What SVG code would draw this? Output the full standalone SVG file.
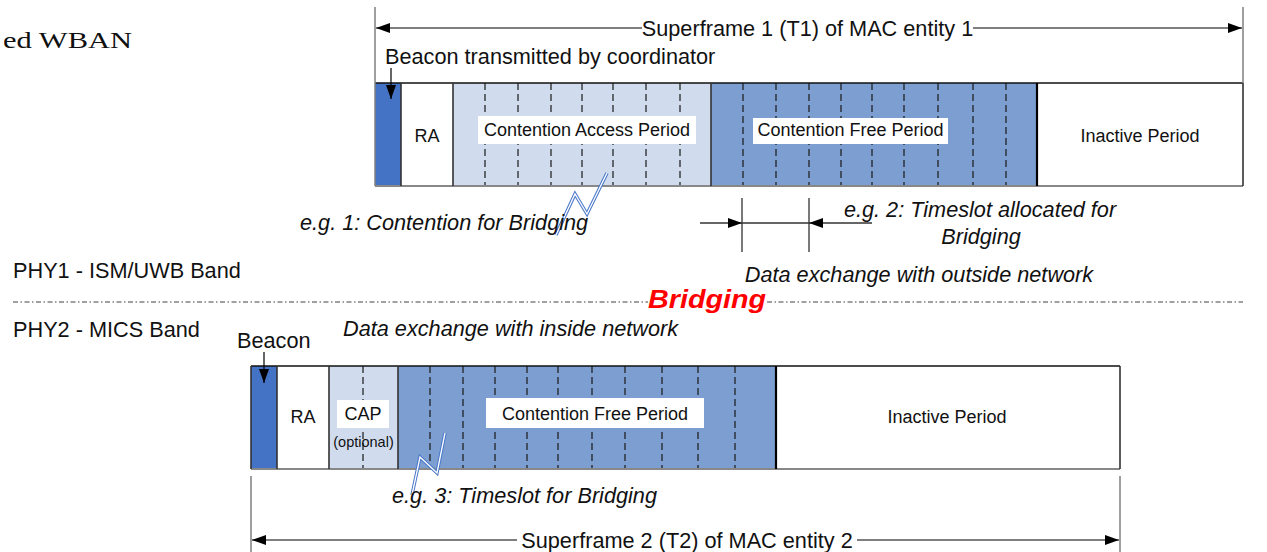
<svg xmlns="http://www.w3.org/2000/svg" width="1267" height="552" viewBox="0 0 1267 552">
  <defs>
    <marker id="ah" viewBox="0 0 14 10" refX="14" refY="5" markerWidth="14" markerHeight="10" markerUnits="userSpaceOnUse" orient="auto">
      <path d="M0,0 L14,5 L0,10 z" fill="#000"/>
    </marker>
    <style>
      .t{font-family:"Liberation Sans",Arial,sans-serif;fill:#111;}
      .lbl{font-size:18px;text-anchor:middle;}
      .big{font-size:21.7px;}
      .it{font-style:italic;}
      .mid{text-anchor:middle;}
      .beacon{fill:#4472C4;}
      .ra{fill:#fff;}
      .cap{fill:#D0DCEE;}
      .cfp{fill:#7C9ED0;}
      .inactive{fill:#fff;}
      .box{fill:#fff;}
      .div{stroke:#333;stroke-width:1.6;fill:none;}
      .topedge{stroke:#111;stroke-width:1.5;fill:none;}
      .botedge{stroke:#888;stroke-width:2;fill:none;}
      .slot{stroke:#1a1a1a;stroke-width:1.2;stroke-dasharray:7 4;fill:none;}
      .frame{stroke:#808080;stroke-width:1.5;fill:none;}
      .arr{stroke:#000;stroke-width:1.2;fill:none;}
      .dim{stroke:#333;stroke-width:1.3;fill:none;}
      .bolt-o{stroke:#4a78c8;stroke-width:3.4;fill:none;stroke-linejoin:miter;}
      .bolt-i{stroke:#fff;stroke-width:1.3;fill:none;stroke-linejoin:miter;}
      .sep{stroke:#444;stroke-width:1.2;stroke-dasharray:5 2.5 1.5 2.5;fill:none;}
    </style>
  </defs>

  <rect width="1267" height="552" fill="#fff"/>

  <!-- clipped title fragment -->
  <text x="3" y="48" font-family="'Liberation Serif','Times New Roman',serif" font-size="23" fill="#111" textLength="129" lengthAdjust="spacingAndGlyphs">ed WBAN</text>

  <!-- ===== Superframe 1 (MAC entity 1) ===== -->
  <g id="sf1-beacon">
    <rect class="beacon" x="375" y="83" width="26" height="103"/>
  </g>
  <g id="sf1-ra">
    <rect class="ra" x="401" y="83" width="52" height="103"/>
    <text class="t lbl" x="427" y="142">RA</text>
  </g>
  <g id="sf1-cap">
    <rect class="cap" x="453" y="83" width="258" height="103"/>
    <path class="slot" d="M485,83V186M518,83V186M551,83V186M582,83V186M613,83V186M646,83V186M680,83V186"/>
    <rect class="box" x="478" y="116" width="218" height="28"/>
    <text class="t lbl" x="587" y="136">Contention Access Period</text>
  </g>
  <g id="sf1-cfp">
    <rect class="cfp" x="711" y="83" width="326" height="103"/>
    <path class="slot" d="M743,83V186M776,83V186M809,83V186M841,83V186M872,83V186M904,83V186M938,83V186M973,83V186M1006,83V186"/>
    <rect class="box" x="753" y="118" width="195" height="26"/>
    <text class="t lbl" x="850.5" y="136">Contention Free Period</text>
  </g>
  <g id="sf1-inactive">
    <rect class="inactive" x="1037" y="83" width="206" height="103"/>
    <text class="t lbl" x="1140" y="142">Inactive Period</text>
  </g>
  <g id="sf1-outline">
    <path class="topedge" d="M375,83H1243"/>
    <path class="botedge" d="M375,186H1243"/>
    <path class="div" d="M401,83V186M453,83V186M711,83V186M1243,83V186"/>
    <path d="M1037,83V186" stroke="#000" stroke-width="2.2"/>
  </g>

  <!-- ===== Superframe 2 (MAC entity 2) ===== -->
  <g id="sf2-beacon">
    <rect class="beacon" x="251" y="366" width="26" height="103"/>
  </g>
  <g id="sf2-ra">
    <rect class="ra" x="277" y="366" width="52" height="103"/>
    <text class="t lbl" x="303" y="423">RA</text>
  </g>
  <g id="sf2-cap">
    <rect class="cap" x="329" y="366" width="69" height="103"/>
    <path class="slot" d="M363,366V469"/>
    <rect class="box" x="337" y="400" width="52" height="28"/>
    <text class="t lbl" x="363" y="420">CAP</text>
    <text class="t mid" x="363.5" y="447" font-size="14.5">(optional)</text>
  </g>
  <g id="sf2-cfp">
    <rect class="cfp" x="398" y="366" width="378" height="103"/>
    <path class="slot" d="M430,366V469M463,366V469M495,366V469M527,366V469M558,366V469M592,366V469M625,366V469M662,366V469M698,366V469M735,366V469"/>
    <rect class="box" x="486" y="398" width="218" height="30"/>
    <text class="t lbl" x="595" y="419.5">Contention Free Period</text>
  </g>
  <g id="sf2-inactive">
    <rect class="inactive" x="776" y="366" width="344" height="103"/>
    <text class="t lbl" x="947" y="423">Inactive Period</text>
  </g>
  <g id="sf2-outline">
    <path class="topedge" d="M251,366H1120"/>
    <path class="botedge" d="M251,469H1120"/>
    <path class="div" d="M251,366V469M277,366V469M329,366V469M398,366V469M1120,366V469"/>
    <path d="M776,366V469" stroke="#000" stroke-width="2.2"/>
  </g>

  <!-- ===== connectors: frame spans, pointers, bridging bolts ===== -->
  <g id="connectors">
    <!-- superframe 1 span -->
    <path class="frame" d="M375,7V186M1243,7V83"/>
    <path class="arr" d="M642,28H376" marker-end="url(#ah)"/>
    <path class="arr" d="M973,28H1242" marker-end="url(#ah)"/>
    <!-- superframe 2 span -->
    <path class="frame" d="M251,476V552M1120,476V552"/>
    <path class="arr" d="M517,540H252" marker-end="url(#ah)"/>
    <path class="arr" d="M857,540H1119" marker-end="url(#ah)"/>
    <!-- beacon pointers -->
    <path class="arr" d="M391,68V99" marker-end="url(#ah)"/>
    <path class="arr" d="M264,352V383" marker-end="url(#ah)"/>
    <!-- timeslot allocated for bridging -->
    <path class="dim" d="M742,198V252M809,198V252M742,223H809"/>
    <path class="dim" d="M700,223H742" marker-end="url(#ah)"/>
    <path class="dim" d="M872,223H809" marker-end="url(#ah)"/>
    <!-- contention bolt (e.g. 1) -->
    <polyline class="bolt-o" points="607,173 587,214 575,194 556,235"/>
    <polyline class="bolt-i" points="607,173 587,214 575,194 556,235"/>
    <!-- timeslot bolt (e.g. 3) -->
    <polyline class="bolt-o" points="445,433 437,473 420,457 412,495"/>
    <polyline class="bolt-i" points="445,433 437,473 420,457 412,495"/>
    <!-- PHY separator -->
    <path class="sep" d="M13,302H648M767,302H1243"/>
  </g>

  <!-- ===== labels ===== -->
  <g id="labels">
    <text class="t big mid" x="807.5" y="35.5">Superframe 1 (T1) of MAC entity 1</text>
    <text class="t big" x="385" y="64">Beacon transmitted by coordinator</text>
    <text class="t big it" x="300" y="230">e.g. 1: Contention for Bridging</text>
    <text class="t big it mid" x="980" y="217">e.g. 2: Timeslot allocated for</text>
    <text class="t big it mid" x="981" y="244">Bridging</text>
    <text class="t big it mid" x="919" y="282">Data exchange with outside network</text>
    <text class="t big" x="13" y="278">PHY1 - ISM/UWB Band</text>
    <text x="648" y="308" font-family="'Liberation Sans',Arial,sans-serif" font-size="25" font-weight="bold" font-style="italic" fill="#ff0000" textLength="118" lengthAdjust="spacingAndGlyphs">Bridging</text>
    <text class="t big" x="13" y="337">PHY2 - MICS Band</text>
    <text class="t big" x="237" y="348">Beacon</text>
    <text class="t big it" x="343" y="336">Data exchange with inside network</text>
    <text class="t big it" x="392" y="503">e.g. 3: Timeslot for Bridging</text>
    <text class="t big mid" x="687" y="548">Superframe 2 (T2) of MAC entity 2</text>
  </g>
</svg>
